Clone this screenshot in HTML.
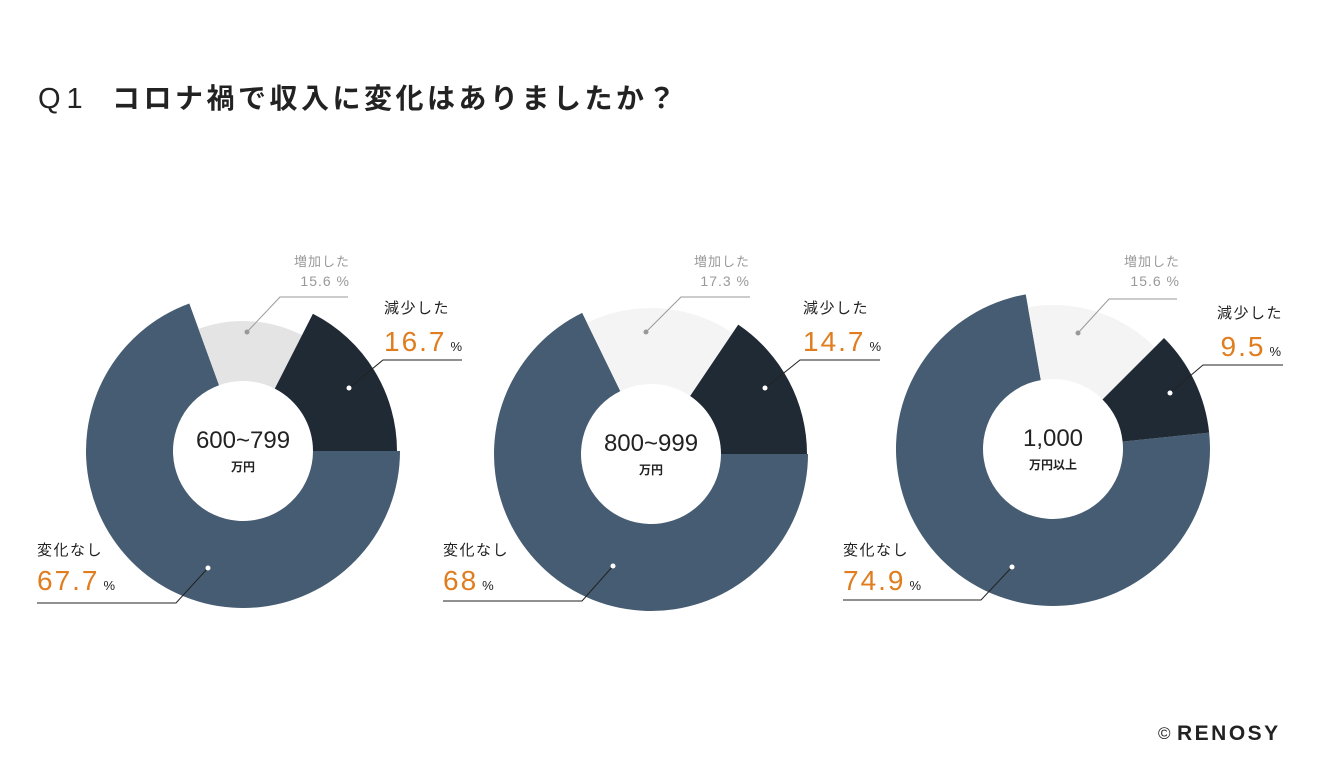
<!DOCTYPE html>
<html><head><meta charset="utf-8"><style>
body{margin:0;background:#fff;}
svg{display:block;}
text{font-family:"Liberation Sans","Noto Sans CJK JP",sans-serif;}
</style></head><body>
<svg id="s" width="1320" height="780" viewBox="0 0 1320 780" xmlns="http://www.w3.org/2000/svg">
<text x="38" y="108" font-size="29" fill="#222" font-weight="300" style="letter-spacing:6px">Q1</text>
<text x="112" y="108" font-size="28" fill="#222" font-weight="bold" style="letter-spacing:3.5px">コロナ禍で収入に変化はありましたか？</text>
<g id="charts"></g>
<text x="1158" y="739" font-size="17" fill="#222">©</text>
<text x="1177" y="740" font-size="21" fill="#222" font-weight="bold" style="letter-spacing:2.5px">RENOSY</text>
</svg>
<script>
const NS="http://www.w3.org/2000/svg";
const g=document.getElementById('charts');
function pt(cx,cy,r,a){const t=a*Math.PI/180;return [cx+r*Math.sin(t),cy-r*Math.cos(t)];}
function arc(cx,cy,ri,ro,a0,a1,fill){
  const l=(a1-a0)>180?1:0;
  const p0=pt(cx,cy,ro,a0),p1=pt(cx,cy,ro,a1),p2=pt(cx,cy,ri,a1),p3=pt(cx,cy,ri,a0);
  const p=document.createElementNS(NS,'path');
  p.setAttribute('d',`M${p0}A${ro},${ro} 0 ${l} 1 ${p1}L${p2}A${ri},${ri} 0 ${l} 0 ${p3}Z`);
  p.setAttribute('fill',fill);g.appendChild(p);
}
function add(html){g.insertAdjacentHTML('beforeend',html);}
const charts=[
 {cx:243,cy:451,ang:[90,340,387,450],r:[157,130,154],inc:'#e4e4e4',t1:'600~799',t2:'万円'},
 {cx:651,cy:454,ang:[90,334,394,450],r:[157,146,156],inc:'#f4f4f4',t1:'800~999',t2:'万円'},
 {cx:1053,cy:449,ang:[84,350,405,444],r:[157,144,157],inc:'#f4f4f4',t1:'1,000',t2:'万円以上'}
];
charts.forEach(c=>{
  const cols=['#465c72',c.inc,'#202a35'];
  for(let i=0;i<3;i++)arc(c.cx,c.cy,70,c.r[i],c.ang[i],c.ang[i+1],cols[i]);
  add(`<text x="${c.cx}" y="${c.cy-3}" font-size="24" fill="#222" text-anchor="middle">${c.t1}</text>
  <text x="${c.cx}" y="${c.cy+20}" font-size="12" fill="#222" font-weight="bold" text-anchor="middle">${c.t2}</text>`);
});
const L=(pts,col)=>add(`<polyline points="${pts}" fill="none" stroke="${col}" stroke-width="1"/><circle cx="${pts.split(' ')[0].split(',')[0]}" cy="${pts.split(' ')[0].split(',')[1]}" r="2.5" fill="${col=='#999'?'#999':'#fff'}"/>`);
function labels(o){
  L(o.ip,'#999');L(o.dp,'#222');L(o.np,'#222');
  add(`<text x="${o.ix}" y="266" font-size="13" fill="#999" text-anchor="end" style="letter-spacing:1px">増加した</text>
  <text x="${o.ix}" y="286" font-size="14" fill="#999" text-anchor="end" style="letter-spacing:1px">${o.iv} %</text>
  <text x="${o.dx}" y="${o.dy}" font-size="15" fill="#222" text-anchor="${o.da||'start'}" style="letter-spacing:1.5px">減少した</text>
  <text x="${o.dx}" y="${o.dy+38}" font-size="28" fill="#e07d1e" text-anchor="${o.da||'start'}" style="letter-spacing:2px">${o.dv}<tspan font-size="13" fill="#222" dx="4">%</tspan></text>
  <text x="${o.nx}" y="555" font-size="15" fill="#222" style="letter-spacing:1.5px">変化なし</text>
  <text x="${o.nx}" y="590" font-size="28" fill="#e07d1e" style="letter-spacing:2px">${o.nv}<tspan font-size="13" fill="#222" dx="4">%</tspan></text>`);
}
labels({ip:'247,332 280,297 348,297',dp:'349,388 383,360 462,360',np:'208,568 176,603 37,603',
 ix:350,iv:'15.6',dx:384,dy:313,dv:'16.7',nx:37,nv:'67.7'});
labels({ip:'646,332 681,297 750,297',dp:'765,388 800,360 880,360',np:'613,566 582,601 443,601',
 ix:750,iv:'17.3',dx:803,dy:313,dv:'14.7',nx:443,nv:'68'});
labels({ip:'1078,333 1109,299 1177,299',dp:'1170,393 1203,365 1283,365',np:'1012,567 981,600 843,600',
 ix:1180,iv:'15.6',dx:1283,dy:318,da:'end',dv:'9.5',nx:843,nv:'74.9'});
</script>
</body></html>
